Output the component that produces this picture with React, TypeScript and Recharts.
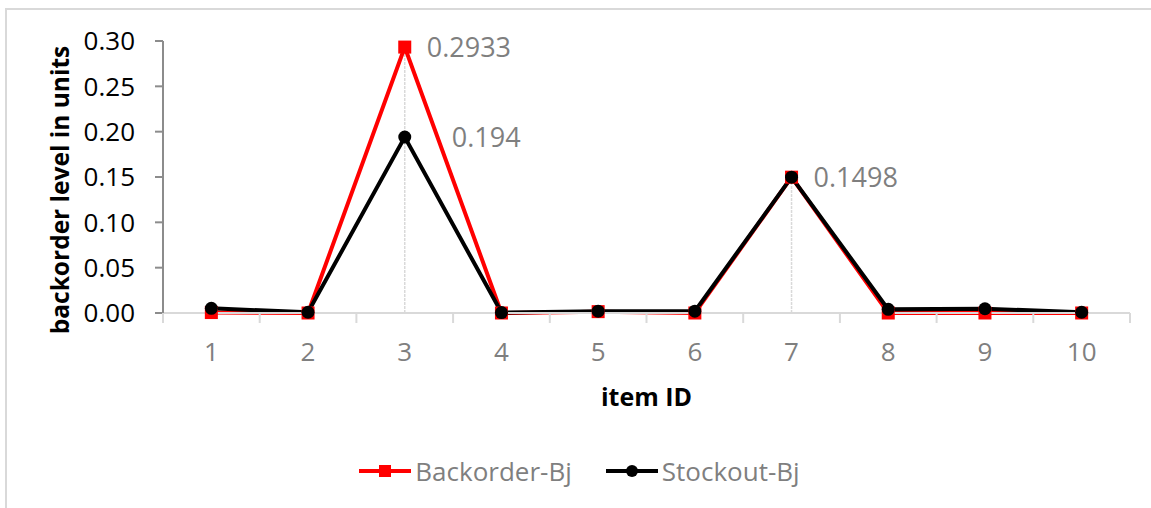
import { LineChart, Line, XAxis, YAxis, ReferenceLine, LabelList, Legend } from 'recharts';

const ITEM_IDS = [1, 2, 3, 4, 5, 6, 7, 8, 9, 10];
const BACKORDER = [0.0005, 0, 0.2933, 0, 0.0015, 0, 0.1498, 0, 0, 0];
const STOCKOUT = [0.0052, 0.0008, 0.194, 0.0005, 0.002, 0.002, 0.1498, 0.004, 0.0047, 0.0008];
// which points carry a value label
const BACKORDER_LABELLED = [3, 7];
const STOCKOUT_LABELLED = [3];
// drop lines under the peaks
const DROP_LINES = [3, 7];
const Y_TICKS = [0, 0.05, 0.1, 0.15, 0.2, 0.25, 0.3];
// integer ticks carry labels, half ticks mark category boundaries
const X_TICKS = [0.5, 1, 1.5, 2, 2.5, 3, 3.5, 4, 4.5, 5, 5.5, 6, 6.5, 7, 7.5, 8, 8.5, 9, 9.5, 10, 10.5];

const data = ITEM_IDS.map((id, i) => ({ id, backorder: BACKORDER[i], stockout: STOCKOUT[i] }));

const FONT = '"Open Sans", "Liberation Sans", sans-serif';
const GREY_TEXT = '#7f7f7f';

function XTick(props: any) {
  const { x, y, payload } = props;
  const v = payload.value as number;
  if (v % 1 !== 0) {
    return <line x1={x} x2={x} y1={y} y2={y + 10} stroke="#d9d9d9" strokeWidth={2} />;
  }
  return (
    <text x={x} y={y + 39} dy="0.355em" textAnchor="middle" fill={GREY_TEXT} fontSize={26} fontFamily={FONT}>
      {v}
    </text>
  );
}

function makeValueLabel(ids: number[], dx: number) {
  return (props: any) => {
    const { x, y, value, index } = props;
    if (!ids.includes(ITEM_IDS[index])) return null;
    return (
      <text x={x + dx} y={y} dy="0.355em" fill={GREY_TEXT} fontSize={27} fontFamily={FONT}>
        {value}
      </text>
    );
  };
}

function LegendContent() {
  const item = (color: string, marker: 'square' | 'circle', text: string) => (
    <div style={{ display: 'flex', alignItems: 'center' }}>
      <svg width={52} height={16}>
        <line x1={0} x2={52} y1={8} y2={8} stroke={color} strokeWidth={4} />
        {marker === 'square'
          ? <rect x={20} y={2} width={12} height={12} fill={color} />
          : <circle cx={26} cy={8} r={6} fill={color} />}
      </svg>
      <span style={{ marginLeft: 4, fontSize: 26, color: GREY_TEXT, fontFamily: FONT }}>{text}</span>
    </div>
  );
  return (
    <div style={{ display: 'flex', justifyContent: 'center', gap: 34, paddingLeft: 8 }}>
      {item('#ff0000', 'square', 'Backorder-Bj')}
      {item('#000000', 'circle', 'Stockout-Bj')}
    </div>
  );
}

export default function App() {
  return (
    <div style={{ position: 'absolute', left: 0, top: 0, width: 1151, height: 508, overflow: 'hidden', background: '#fff' }}>
      <div style={{ position: 'absolute', left: 5, top: 8, width: 1200, height: 600, border: '2px solid #d9d9d9' }} />
      <LineChart
        width={1151}
        height={508}
        data={data}
        margin={{ top: 41, right: 21, left: 0, bottom: 0 }}
        style={{ position: 'absolute', left: 0, top: 0 }}
      >
        <XAxis
          dataKey="id"
          type="number"
          domain={[0.5, 10.5]}
          ticks={X_TICKS}
          interval={0}
          height={195}
          tickLine={false}
          tickSize={0}
          tickMargin={0}
          tick={XTick}
          axisLine={{ stroke: '#d9d9d9', strokeWidth: 2 }}
          label={(p: any) => {
            const vb = p.viewBox;
            return (
              <text x={vb.x + vb.width / 2} y={vb.y + 84} dy="0.355em" textAnchor="middle" fontSize={25} fontWeight="bold" fontFamily={FONT} fill="#000">
                item ID
              </text>
            );
          }}
        />
        <YAxis
          width={163}
          domain={[0, 0.3]}
          ticks={Y_TICKS}
          tickFormatter={(v: number) => v.toFixed(2)}
          tick={{ fill: '#000', fontSize: 26, fontFamily: FONT }}
          tickSize={8}
          tickMargin={20}
          axisLine={{ stroke: '#8c8c8c', strokeWidth: 2 }}
          tickLine={{ stroke: '#8c8c8c', strokeWidth: 2 }}
          label={(p: any) => {
            const vb = p.viewBox;
            const cy = vb.y + vb.height / 2 + 13;
            return (
              <text x={69} y={cy} transform={`rotate(-90, 69, ${cy})`} textAnchor="middle" fontSize={24.5} fontWeight="bold" fontFamily={FONT} fill="#000">
                backorder level in units
              </text>
            );
          }}
        />
        {DROP_LINES.map((id) => (
          <ReferenceLine
            key={id}
            segment={[{ x: id, y: 0 }, { x: id, y: Math.max(BACKORDER[id - 1], STOCKOUT[id - 1]) }]}
            stroke="#d9d9d9"
            strokeWidth={1.5}
            strokeDasharray="3 1"
          />
        ))}
        <Line
          dataKey="backorder"
          stroke="#ff0000"
          strokeWidth={4}
          isAnimationActive={false}
          dot={(p: any) => <rect key={`b${p.index}`} x={p.cx - 6.5} y={p.cy - 6.5} width={13} height={13} fill="#ff0000" />}
          activeDot={false}
        >
          <LabelList dataKey="backorder" content={makeValueLabel(BACKORDER_LABELLED, 22)} />
        </Line>
        <Line
          dataKey="stockout"
          stroke="#000000"
          strokeWidth={4}
          isAnimationActive={false}
          dot={(p: any) => <circle key={`s${p.index}`} cx={p.cx} cy={p.cy} r={6.5} fill="#000" />}
          activeDot={false}
        >
          <LabelList dataKey="stockout" content={makeValueLabel(STOCKOUT_LABELLED, 47)} />
        </Line>
        <Legend
          verticalAlign="middle"
          align="center"
          content={<LegendContent />}
          wrapperStyle={{ top: 453, left: 0, width: 1151 }}
        />
      </LineChart>
    </div>
  );
}
